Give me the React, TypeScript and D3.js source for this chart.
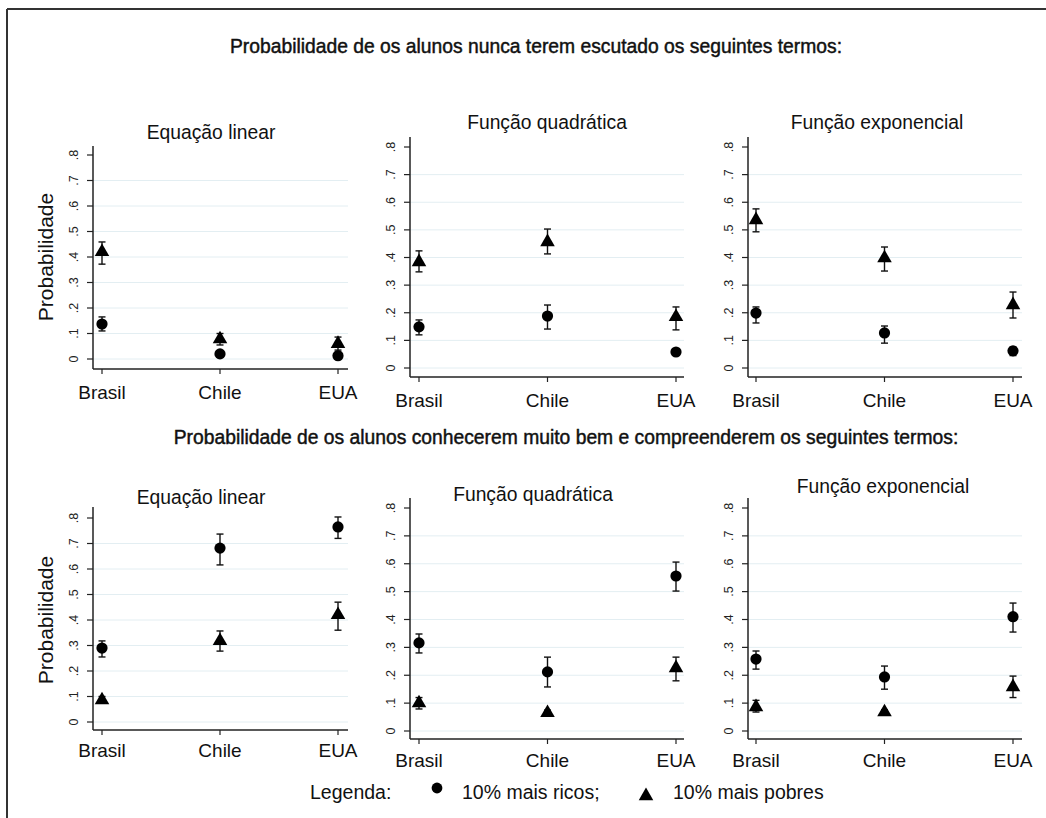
import * as d3 from "d3";
import { useEffect } from "react";

// países e títulos
const countries = ["Brasil", "Chile", "EUA"];
const panelTitles = ["Equação linear", "Função quadrática", "Função exponencial"];
const yTicks = [0, 0.1, 0.2, 0.3, 0.4, 0.5, 0.6, 0.7, 0.8];
const yTickLabels = ["0", ".1", ".2", ".3", ".4", ".5", ".6", ".7", ".8"];
const sectionTitles = [
  "Probabilidade de os alunos nunca terem escutado os seguintes termos:",
  "Probabilidade de os alunos conhecerem muito bem e compreenderem os seguintes termos:",
];

// nunca terem escutado: [linear, quadrática, exponencial] x [Brasil, Chile, EUA]
const nuncaRicosMedia = [[0.137, 0.02, 0.013], [0.149, 0.188, 0.058], [0.199, 0.127, 0.062]];
const nuncaRicosInf = [[0.11, 0.01, 0.005], [0.12, 0.141, 0.052], [0.163, 0.09, 0.045]];
const nuncaRicosSup = [[0.165, 0.03, 0.025], [0.174, 0.228, 0.064], [0.221, 0.152, 0.076]];
const nuncaPobresMedia = [[0.42, 0.078, 0.06], [0.384, 0.456, 0.185], [0.536, 0.398, 0.228]];
const nuncaPobresInf = [[0.372, 0.055, 0.035], [0.348, 0.413, 0.138], [0.493, 0.351, 0.181]];
const nuncaPobresSup = [[0.459, 0.1, 0.086], [0.424, 0.503, 0.221], [0.576, 0.438, 0.275]];

// conhecerem muito bem
const conhecemRicosMedia = [[0.29, 0.682, 0.765], [0.316, 0.212, 0.556], [0.258, 0.194, 0.41]];
const conhecemRicosInf = [[0.255, 0.616, 0.72], [0.28, 0.158, 0.502], [0.222, 0.15, 0.355]];
const conhecemRicosSup = [[0.318, 0.737, 0.804], [0.348, 0.265, 0.606], [0.287, 0.233, 0.459]];
const conhecemPobresMedia = [[0.086, 0.318, 0.42], [0.1, 0.065, 0.226], [0.086, 0.068, 0.158]];
const conhecemPobresInf = [[0.075, 0.278, 0.36], [0.079, 0.055, 0.18], [0.068, 0.06, 0.12]];
const conhecemPobresSup = [[0.1, 0.357, 0.47], [0.12, 0.075, 0.265], [0.11, 0.076, 0.197]];

const legendLabels = ["Legenda:", "10% mais ricos;", "10% mais pobres"];

const FONT = "'Liberation Sans', Arial, sans-serif";

// posições dos painéis (layout)
const layout = [
  { left: 93, right: 348, cx0: 102, cx1: 338, y0: 359, y8: 155, axisY: 369, top: 146, titleX: 211, titleY: 139, labY: 399, yTitle: true },
  { left: 410, right: 684, cx0: 419, cx1: 676, y0: 368, y8: 147, axisY: 377, top: 137, titleX: 547, titleY: 129, labY: 407 },
  { left: 748, right: 1022, cx0: 756, cx1: 1013, y0: 368, y8: 147, axisY: 377, top: 137, titleX: 877, titleY: 129, labY: 407 },
  { left: 93, right: 348, cx0: 102, cx1: 338, y0: 722, y8: 518, axisY: 730, top: 507, titleX: 201, titleY: 504, labY: 757, yTitle: true },
  { left: 410, right: 684, cx0: 419, cx1: 676, y0: 731, y8: 508, axisY: 739, top: 498, titleX: 533, titleY: 501, labY: 767 },
  { left: 748, right: 1022, cx0: 756, cx1: 1013, y0: 731, y8: 508, axisY: 739, top: 498, titleX: 883, titleY: 493, labY: 767 },
];

const triangle = d3.symbol().type(d3.symbolTriangle).size(92)();

function Panel({ idx }: { idx: number }) {
  const L = layout[idx];
  const section = idx < 3 ? 0 : 1;
  const p = idx % 3;
  const ricos = section === 0
    ? [nuncaRicosMedia[p], nuncaRicosInf[p], nuncaRicosSup[p]]
    : [conhecemRicosMedia[p], conhecemRicosInf[p], conhecemRicosSup[p]];
  const pobres = section === 0
    ? [nuncaPobresMedia[p], nuncaPobresInf[p], nuncaPobresSup[p]]
    : [conhecemPobresMedia[p], conhecemPobresInf[p], conhecemPobresSup[p]];

  const x = d3.scalePoint().domain(countries).range([L.cx0, L.cx1]);
  const y = d3.scaleLinear().domain([0, 0.8]).range([L.y0, L.y8]);

  const errBar = (c: string, lo: number, hi: number, key: string) => (
    <g key={key} stroke="#111" strokeWidth={1.4}>
      <line x1={x(c)} x2={x(c)} y1={y(lo)} y2={y(hi)} />
      <line x1={x(c)! - 3.5} x2={x(c)! + 3.5} y1={y(lo)} y2={y(lo)} />
      <line x1={x(c)! - 3.5} x2={x(c)! + 3.5} y1={y(hi)} y2={y(hi)} />
    </g>
  );

  return (
    <g>
      {yTicks.slice(0, 8).map((t) => (
        <line key={"g" + t} x1={L.left} x2={L.right} y1={y(t)} y2={y(t)} stroke="#e3eef2" strokeWidth={1} />
      ))}
      {yTicks.map((t, i) => (
        <g key={"t" + t}>
          <line x1={L.left - 6} x2={L.left} y1={y(t)} y2={y(t)} stroke="#222" strokeWidth={1.2} />
          <text
            transform={`translate(${L.left - 15},${y(t)}) rotate(-90)`}
            textAnchor="middle"
            fontFamily={FONT}
            fontSize={12.5}
            fill="#222"
          >
            {yTickLabels[i]}
          </text>
        </g>
      ))}
      <line x1={L.left} x2={L.left} y1={L.top} y2={L.axisY} stroke="#222" strokeWidth={1.5} />
      <line x1={L.left} x2={L.right} y1={L.axisY} y2={L.axisY} stroke="#222" strokeWidth={1.5} />
      {countries.map((c) => (
        <g key={"x" + c}>
          <line x1={x(c)} x2={x(c)} y1={L.axisY} y2={L.axisY + 5} stroke="#222" strokeWidth={1.2} />
          <text x={x(c)} y={L.labY} textAnchor="middle" fontFamily={FONT} fontSize={19} fill="#111">
            {c}
          </text>
        </g>
      ))}
      <text x={L.titleX} y={L.titleY} textAnchor="middle" fontFamily={FONT} fontSize={19.3} fill="#111">
        {panelTitles[p]}
      </text>
      {L.yTitle && (
        <text
          transform={`translate(${L.left - 40},${(L.y0 + L.y8) / 2}) rotate(-90)`}
          textAnchor="middle"
          fontFamily={FONT}
          fontSize={21}
          fill="#111"
        >
          Probabilidade
        </text>
      )}
      {countries.map((c, i) => errBar(c, ricos[1][i], ricos[2][i], "er" + c))}
      {countries.map((c, i) => errBar(c, pobres[1][i], pobres[2][i], "ep" + c))}
      {countries.map((c, i) => (
        <circle key={"c" + c} cx={x(c)} cy={y(ricos[0][i])} r={5.6} fill="#000" />
      ))}
      {countries.map((c, i) => (
        <path key={"p" + c} d={triangle!} transform={`translate(${x(c)},${y(pobres[0][i])})`} fill="#000" />
      ))}
    </g>
  );
}

export default function App() {
  useEffect(() => {
    document.body.style.margin = "0";
  }, []);
  return (
    <svg width={1046} height={818} style={{ display: "block", background: "#fff" }}>
      <rect x={0} y={0} width={1046} height={818} fill="#fff" />
      <line x1={7} x2={1046} y1={9} y2={9} stroke="#333" strokeWidth={2} />
      <line x1={7} x2={7} y1={9} y2={818} stroke="#333" strokeWidth={2} />
      <text x={536} y={53} textAnchor="middle" fontFamily={FONT} fontSize={19.3} fill="#111" stroke="#111" strokeWidth={0.45}>
        {sectionTitles[0]}
      </text>
      <text x={566} y={444} textAnchor="middle" fontFamily={FONT} fontSize={19.3} fill="#111" stroke="#111" strokeWidth={0.45}>
        {sectionTitles[1]}
      </text>
      {layout.map((_, i) => (
        <Panel key={i} idx={i} />
      ))}
      <text x={310} y={799} fontFamily={FONT} fontSize={19.5} fill="#111">
        {legendLabels[0]}
      </text>
      <circle cx={437} cy={788} r={5.4} fill="#000" />
      <text x={462} y={799} fontFamily={FONT} fontSize={19.5} fill="#111">
        {legendLabels[1]}
      </text>
      <path d={triangle!} transform="translate(646,796)" fill="#000" />
      <text x={673} y={799} fontFamily={FONT} fontSize={19.5} fill="#111">
        {legendLabels[2]}
      </text>
    </svg>
  );
}
